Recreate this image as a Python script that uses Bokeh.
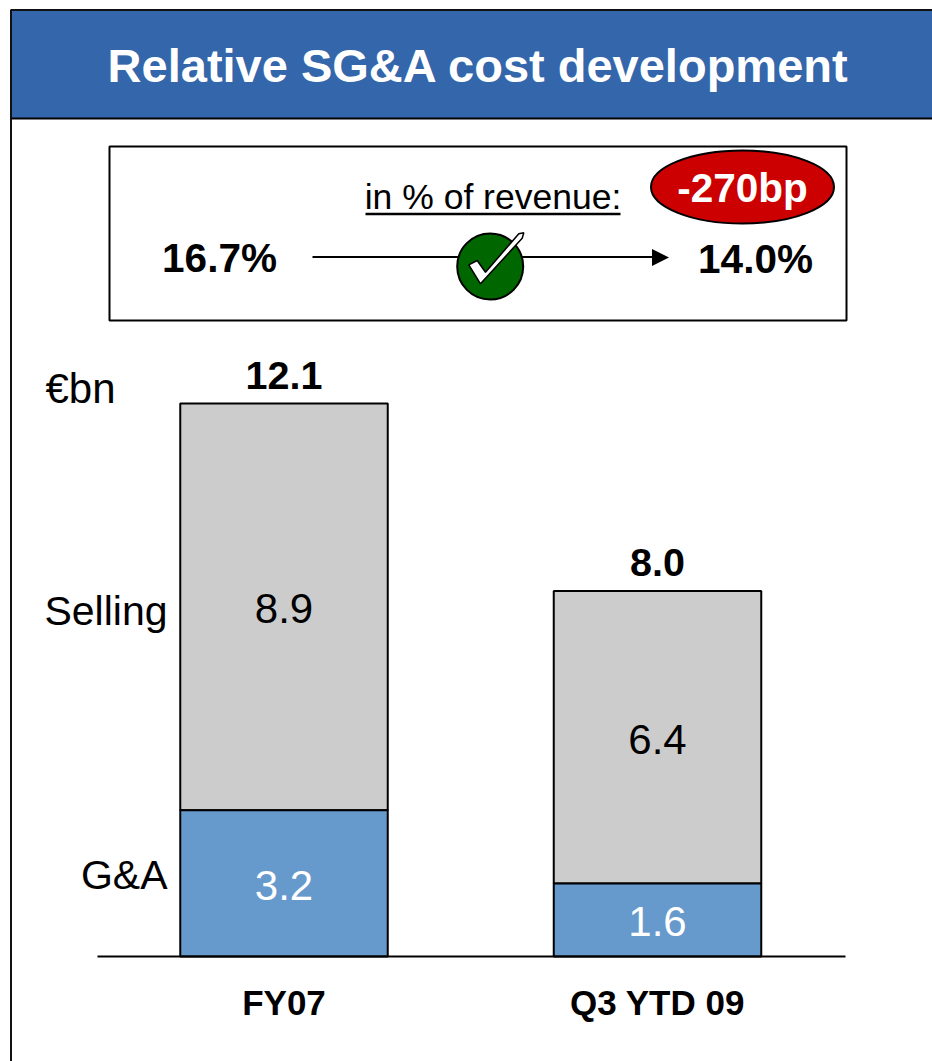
from bokeh.plotting import figure
from bokeh.models import Range1d, ColumnDataSource
from bokeh.core.properties import value
from bokeh.embed import file_html
from bokeh.resources import INLINE

categories = ["FY07", "Q3 YTD 09"]
ga = [3.2, 1.6]
selling = [8.9, 6.4]
totals = [12.1, 8.0]
ga_labels = ["3.2", "1.6"]
selling_labels = ["8.9", "6.4"]
total_labels = ["12.1", "8.0"]
pct_start = "16.7%"
pct_end = "14.0%"
change = "-270bp"

FONT = value("Liberation Sans")
W, H = 932, 1061
PX_PER_CAT = 373.5
PX_PER_UNIT = 45.7
X0, Y0 = 283.5, 956.0  # page position of first category and of the zero line

p = figure(
    width=W, height=H, output_backend="svg", toolbar_location=None,
    x_axis_location=None, y_axis_location=None, min_border=0,
    x_range=Range1d(-X0 / PX_PER_CAT, (W - X0) / PX_PER_CAT),
    y_range=Range1d((Y0 - H) / PX_PER_UNIT, Y0 / PX_PER_UNIT),
    background_fill_color="white", border_fill_color="white",
)
p.outline_line_color = None
p.grid.visible = False
# page-pixel ranges for the slide furniture
p.extra_x_ranges["px"] = Range1d(0, W)
p.extra_y_ranges["px"] = Range1d(H, 0)
PX = dict(x_range_name="px", y_range_name="px")


def txt(x, y, s, size, color="black", bold=False, align="center"):
    # y is the baseline; the text is anchored on its middle
    p.text([x], [y - 0.36 * size], text=[s], text_font=FONT, text_font_size=f"{size}px",
           text_font_style="bold" if bold else "normal", text_color=color,
           text_align=align, text_baseline="middle", **PX)


# header and frame
p.quad(left=[10.5], right=[W + 5], top=[9.5], bottom=[118], fill_color="#3366AA",
       line_color=None, **PX)
p.line([10.5, W + 5], [9.5, 9.5], line_color="#111111", line_width=2, **PX)
p.line([10.5, W + 5], [118, 118], line_color="black", line_width=2, **PX)
p.line([10.5, 10.5], [9, H + 5], line_color="#111111", line_width=2, **PX)
txt(478, 82, "Relative SG&A cost development", 47, "white", True)

# KPI box
p.quad(left=[109], right=[846], top=[146], bottom=[320], fill_color="white",
       line_color="black", line_width=2, **PX)
txt(492.5, 209, "in % of revenue:", 35.5)
p.line([365, 620], [213.5, 213.5], line_color="black", line_width=2.5, **PX)
txt(219, 272, pct_start, 40.5, bold=True)
txt(755, 273, pct_end, 40.5, bold=True)
p.line([312, 655], [256.5, 256.5], line_color="black", line_width=2, **PX)
p.patch([668.5, 651.5, 651.5], [257, 248.5, 265.5], fill_color="black", line_color=None, **PX)
p.ellipse([489.7], [266], width=[66], height=[66], fill_color="#006600",
          line_color="black", line_width=2, **PX)
p.patch([468.3, 476.7, 485, 518.3, 523.3, 521.7, 480],
        [264.3, 260, 271.7, 233.3, 232.3, 237.7, 283.3],
        fill_color="white", line_color="black", line_width=1.5, **PX)
p.ellipse([742], [186.5], width=[183], height=[73], fill_color="#CC0000",
          line_color="black", line_width=2, **PX)
txt(742, 202, change, 40.5, "white", True)

# stacked bars, through the data scales
xs = list(range(len(categories)))
src = ColumnDataSource(dict(
    x=xs, ga=ga, selling_top=[g + s for g, s in zip(ga, selling)],
    ga_mid=[g / 2 for g in ga], sell_mid=[g + s / 2 for g, s in zip(ga, selling)],
    total=totals, ga_l=ga_labels, sell_l=selling_labels, tot_l=total_labels,
    cat=categories, cat_y=[1015 - 0.36 * 35] * len(categories),
))
BW = 207.5 / PX_PER_CAT
p.vbar(x="x", width=BW, bottom="ga", top="selling_top", source=src,
       fill_color="#CCCCCC", line_color="black", line_width=2)
p.vbar(x="x", width=BW, bottom=0, top="ga", source=src,
       fill_color="#6699CC", line_color="black", line_width=2)
p.line([97, 845], [956, 956], line_color="black", line_width=2, **PX)

LBL = dict(text_font=FONT, text_align="center", text_font_size="42px", source=src)
p.text(x="x", y="sell_mid", text="sell_l", text_baseline="middle", text_color="black",
       y_offset=2, **LBL)
p.text(x="x", y="ga_mid", text="ga_l", text_baseline="middle", text_color="white",
       y_offset=2, **LBL)
p.text(x="x", y="total", text="tot_l", text_baseline="middle", text_color="black",
       y_offset=-28, text_font=FONT, text_align="center", text_font_size="39.5px",
       text_font_style="bold", source=src)
p.text(x="x", y="cat_y", text="cat", text_baseline="middle", text_color="black",
       text_font=FONT, text_align="center", text_font_size="35px", text_font_style="bold",
       source=src, y_range_name="px")

# row labels
txt(45, 403, "€bn", 42, align="left")
txt(167, 625, "Selling", 41, align="right")
txt(167, 889, "G&A", 41, align="right")

open("out.html", "w").write(file_html(p, INLINE))
